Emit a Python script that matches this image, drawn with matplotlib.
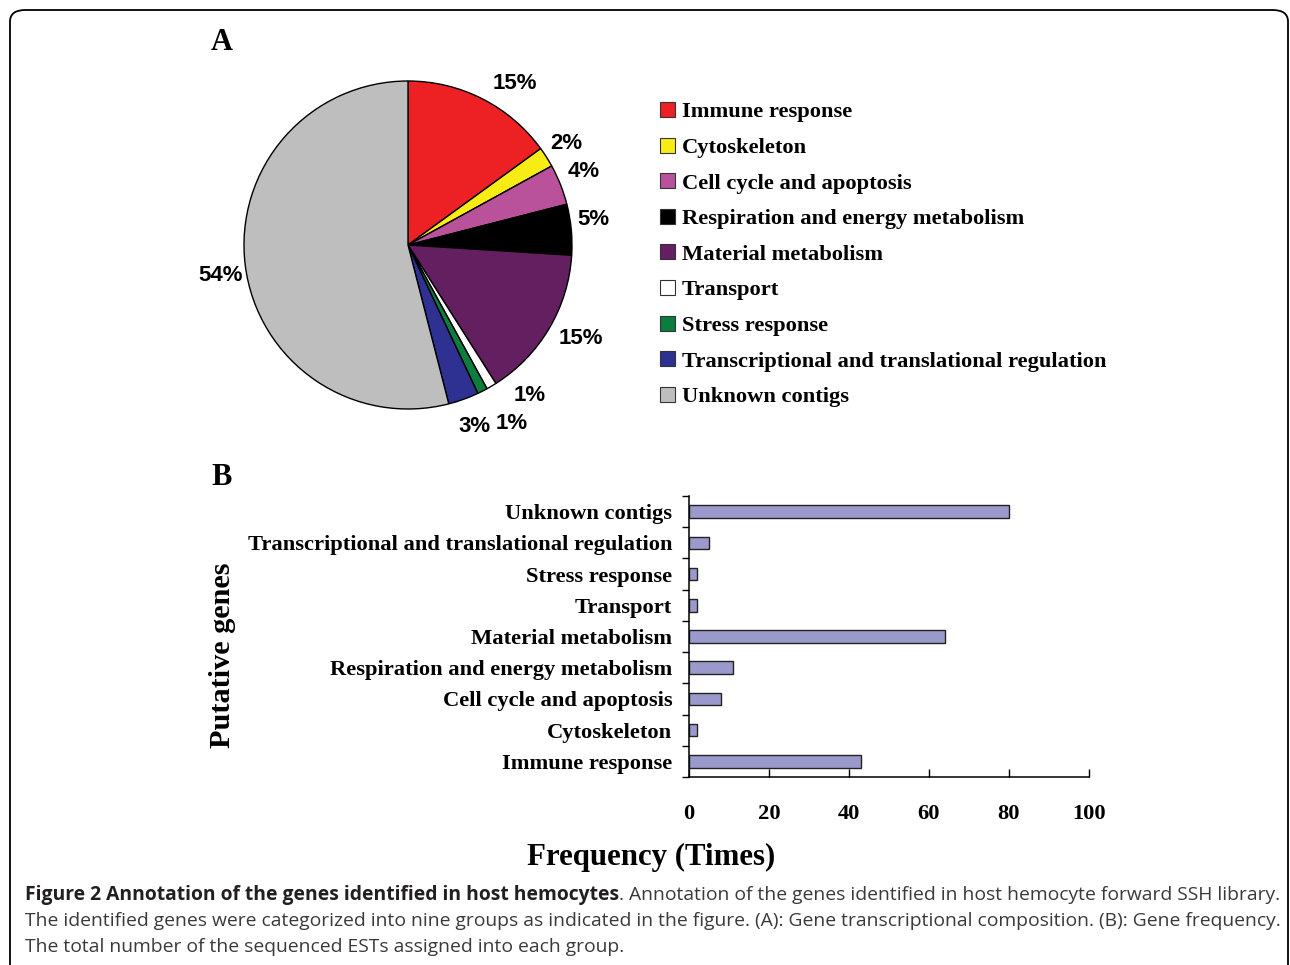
import numpy as np
import matplotlib
matplotlib.use('Agg')
import matplotlib.pyplot as plt
from matplotlib.patches import FancyBboxPatch
from matplotlib.font_manager import FontProperties

# categories and values
categories = ['Immune response', 'Cytoskeleton', 'Cell cycle and apoptosis',
              'Respiration and energy metabolism', 'Material metabolism',
              'Transport', 'Stress response',
              'Transcriptional and translational regulation', 'Unknown contigs']
pie_percent = [15, 2, 4, 5, 15, 1, 1, 3, 54]
frequency = [43, 2, 8, 11, 64, 2, 2, 5, 80]
freq_ticks = [0, 20, 40, 60, 80, 100]

colors = ['#ED2024', '#F7EC13', '#B9529B', '#000000', '#641F61',
          '#FFFFFF', '#0B7D3E', '#2E3192', '#BEBEBE']

W, H = 1290, 965
def fx(px):
    return px / W
def fy(py):
    return 1 - py / H

serif_b = FontProperties(family='Liberation Serif', weight='bold', size=16.2)
sans_b = FontProperties(family='Liberation Sans', weight='bold', size=16)

fig = plt.figure(figsize=(W / 100, H / 100), dpi=100)

# rounded frame round the figure
frame = FancyBboxPatch((fx(10), fy(1000)), fx(1278), fy(10) - fy(1000),
                       boxstyle='round,pad=0,rounding_size=0.012',
                       transform=fig.transFigure, fill=False,
                       edgecolor='black', linewidth=1.3)
fig.patches.append(frame)

# ---- panel A: pie
ax1 = fig.add_axes([fx(244), fy(409), 328 / W, 328 / H])
wedges, _ = ax1.pie(pie_percent, colors=colors, startangle=90, counterclock=False,
                    wedgeprops=dict(edgecolor='black', linewidth=1.0))
ax1.set_xlim(-1, 1)
ax1.set_ylim(-1, 1)
ax1.set_aspect('equal')
ax1.axis('off')

# label nudges (degrees) and radii so the small slices don't collide
nudge = [-6.4, 0.3, 1.0, 2.3, 2.3, 8.5, 3.0, 0.2, 2.0]
radius = [1.18, 1.15, 1.16, 1.14, 1.2, 1.18, 1.26, 1.18, 1.16]
for w, p, dn, r in zip(wedges, pie_percent, nudge, radius):
    th = np.deg2rad((w.theta1 + w.theta2) / 2 + dn)
    ax1.text(r * np.cos(th), r * np.sin(th), f'{p}%', ha='center', va='center',
             fontproperties=sans_b)

leg = ax1.legend(wedges, categories, loc='upper left',
                 bbox_to_anchor=(fx(660), fy(102)), bbox_transform=fig.transFigure,
                 frameon=False, prop=serif_b, handlelength=0.65, handleheight=0.65,
                 handletextpad=0.33, labelspacing=0.675, borderaxespad=0, borderpad=0)
for h in leg.legend_handles:
    h.set_linewidth(0.8)
    h.set_edgecolor('#333333')

fig.text(fx(222), fy(42), 'A', ha='center', va='center', family='Liberation Serif',
         weight='bold', size=22)
fig.text(fx(222), fy(477), 'B', ha='center', va='center', family='Liberation Serif',
         weight='bold', size=22)

# ---- panel B: bars
ax2 = fig.add_axes([fx(689), fy(777), 400 / W, 281 / H])
ypos = np.arange(len(categories))
ax2.barh(ypos, frequency, height=0.4, color='#9999CC', edgecolor='#222222', linewidth=1.0)
ax2.set_xlim(0, 100)
ax2.set_ylim(-0.5, len(categories) - 0.5)
ax2.set_yticks(ypos)
ax2.set_yticklabels(categories, fontproperties=serif_b)
ax2.set_yticks(np.arange(-0.5, len(categories), 1), minor=True)
ax2.tick_params(axis='y', which='major', length=0, pad=12)
ax2.tick_params(axis='y', which='minor', length=5, width=1, direction='out')
ax2.set_xticks(freq_ticks)
ax2.set_xticklabels([str(t) for t in freq_ticks], fontproperties=serif_b)
ax2.tick_params(axis='x', direction='in', length=6, width=1, pad=19.5)
for s in ['top', 'right']:
    ax2.spines[s].set_visible(False)
for s in ['left', 'bottom']:
    ax2.spines[s].set_linewidth(1.1)

fig.text(fx(222), fy(655), 'Putative genes', rotation=90, ha='center', va='center',
         family='Liberation Serif', weight='bold', size=21.8)
fig.text(fx(651), fy(857), 'Frequency (Times)', ha='center', va='center',
         family='Liberation Serif', weight='bold', size=22.2)

# ---- caption
cap_font = 'Open Sans'
cap_size = 13.9
renderer = fig.canvas.get_renderer()
t_bold = fig.text(fx(25), fy(895), 'Figure 2 Annotation of the genes identified in host hemocytes',
                  ha='left', va='center', family=cap_font, weight='bold', size=cap_size,
                  color='#231F20')
bb = t_bold.get_window_extent(renderer)
fig.text(bb.x1 / W, fy(895), '. Annotation of the genes identified in host hemocyte forward SSH library.',
         ha='left', va='center', family=cap_font, size=cap_size, color='#3A3A3A')
fig.text(fx(25), fy(921), 'The identified genes were categorized into nine groups as indicated in the figure. '
         '(A): Gene transcriptional composition. (B): Gene frequency.',
         ha='left', va='center', family=cap_font, size=cap_size, color='#3A3A3A')
fig.text(fx(25), fy(947), 'The total number of the sequenced ESTs assigned into each group.',
         ha='left', va='center', family=cap_font, size=cap_size, color='#3A3A3A')

fig.savefig('out.png', dpi=100)
